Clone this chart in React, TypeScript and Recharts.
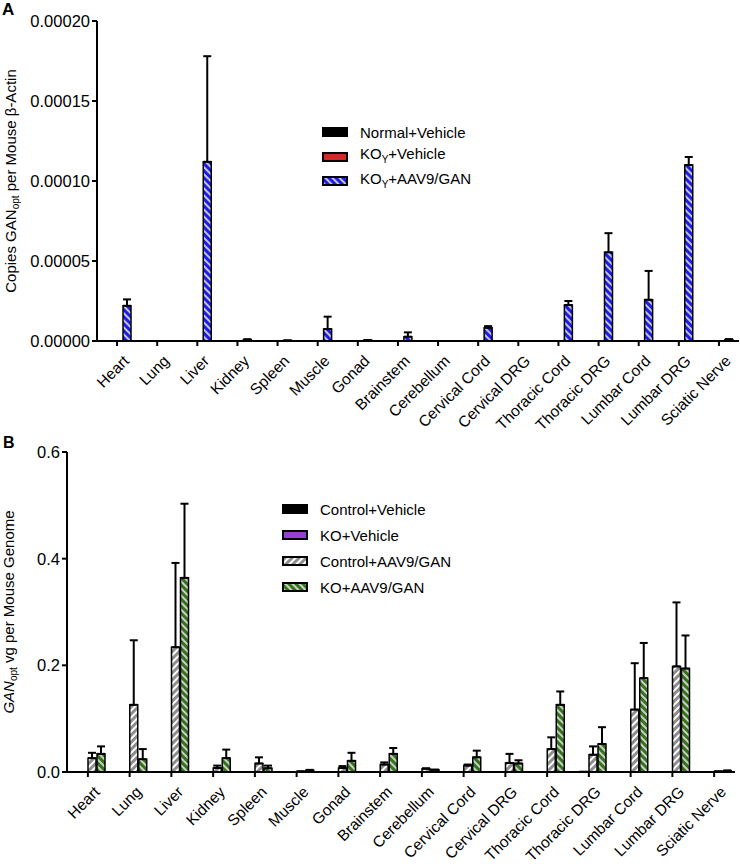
import React from "react";
import { BarChart, Bar, XAxis, YAxis, ErrorBar } from "recharts";

const FONT = '"Liberation Sans", Arial, Helvetica, sans-serif';

const tissues = [
  "Heart",
  "Lung",
  "Liver",
  "Kidney",
  "Spleen",
  "Muscle",
  "Gonad",
  "Brainstem",
  "Cerebellum",
  "Cervical Cord",
  "Cervical DRG",
  "Thoracic Cord",
  "Thoracic DRG",
  "Lumbar Cord",
  "Lumbar DRG",
  "Sciatic Nerve",
];

// Panel A: copies GANopt per mouse beta-actin
const normalVehicleA = [0, 0, 0, 0, 0, 0, 0, 0, 0, 0, 0, 0, 0, 0, 0, 0];
const koYVehicleA = [0, 0, 0, 0, 0, 0, 0, 0, 0, 0, 0, 0, 0, 0, 0, 0];
const koYAavA = [
  0.000022, 0, 0.000112, 0.0000008, 0.0000003, 0.0000075, 0.0000005, 0.0000027,
  0, 0.0000083, 0, 0.0000225, 0.0000554, 0.0000258, 0.00011, 0.0000008,
];
const koYAavErrA = [
  0.000004, 0, 0.000066, 0.0000003, 0, 0.0000077, 0, 0.0000027,
  0, 0.000001, 0, 0.0000025, 0.000012, 0.000018, 0.000005, 0.0000004,
];
const ticksA = [0, 0.00005, 0.0001, 0.00015, 0.0002];

// Panel B: GANopt vg per mouse genome
const ctrlVehicleB = [0, 0, 0, 0, 0, 0, 0, 0, 0, 0, 0, 0, 0, 0, 0, 0];
const koVehicleB = [0, 0, 0, 0, 0, 0, 0, 0, 0, 0, 0, 0, 0.001, 0, 0, 0];
const ctrlAavB = [
  0.026, 0.126, 0.234, 0.0075, 0.016, 0.001, 0.0075, 0.014,
  0.006, 0.012, 0.017, 0.043, 0.0325, 0.117, 0.198, 0.001,
];
const ctrlAavErrB = [
  0.01, 0.121, 0.158, 0.0045, 0.0115, 0, 0.0035, 0.004,
  0.001, 0.002, 0.017, 0.022, 0.0155, 0.087, 0.12, 0,
];
const koAavB = [
  0.034, 0.024, 0.364, 0.026, 0.007, 0.003, 0.021, 0.034,
  0.004, 0.0275, 0.016, 0.126, 0.0525, 0.176, 0.194, 0.002,
];
const koAavErrB = [
  0.014, 0.019, 0.139, 0.016, 0.005, 0.001, 0.015, 0.011,
  0.0005, 0.0125, 0.006, 0.025, 0.0315, 0.066, 0.062, 0.001,
];
const ticksB = [0, 0.2, 0.4, 0.6];

const dataA = tissues.map((tissue, i) => ({
  tissue,
  normalVehicle: normalVehicleA[i],
  koYVehicle: koYVehicleA[i],
  koYAav: koYAavA[i],
  koYAavErr: [0, koYAavErrA[i]],
}));

const dataB = tissues.map((tissue, i) => ({
  tissue,
  ctrlVehicle: ctrlVehicleB[i],
  koVehicle: koVehicleB[i],
  ctrlAav: ctrlAavB[i],
  ctrlAavErr: [0, ctrlAavErrB[i]],
  koAav: koAavB[i],
  koAavErr: [0, koAavErrB[i]],
}));

const BLUE = "#1c1cf0";
const RED = "#d02a2a";
const PURPLE = "#9440d0";
const GRAY = "#8e8e8e";
const GREEN = "#337516";

const axisStyle = { stroke: "#000", strokeWidth: 2 };

// rotated category labels, top-right corner sits under the tick
const XTick = (props: any) => {
  const { x, y, payload } = props;
  return (
    <g transform={`translate(${x + 5},${y + 6})`}>
      <text
        textAnchor="end"
        transform="rotate(-45)"
        dy="0.72em"
        fontSize={15.5}
        fontFamily={FONT}
        fill="#000"
      >
        {payload.value}
      </text>
    </g>
  );
};

const YLabelA = (props: any) => {
  const { viewBox } = props;
  const cx = viewBox.x + 16;
  const cy = viewBox.y + viewBox.height / 2;
  return (
    <text
      transform={`translate(${cx},${cy}) rotate(-90)`}
      textAnchor="middle"
      fontSize={15}
      fontFamily={FONT}
      fill="#000"
    >
      Copies GAN
      <tspan fontSize={10} dy={3}>
        opt
      </tspan>
      <tspan dy={-3}> per Mouse β-Actin</tspan>
    </text>
  );
};

const YLabelB = (props: any) => {
  const { viewBox } = props;
  const cx = viewBox.x + 14;
  const cy = viewBox.y + viewBox.height / 2;
  return (
    <text
      transform={`translate(${cx},${cy}) rotate(-90)`}
      textAnchor="middle"
      fontSize={15}
      fontFamily={FONT}
      fill="#000"
    >
      <tspan fontStyle="italic">GAN</tspan>
      <tspan fontSize={10} dy={3}>
        opt
      </tspan>
      <tspan dy={-3}> vg per Mouse Genome</tspan>
    </text>
  );
};

const Swatch = ({ fill }: { fill: string }) => (
  <svg width={26} height={10} style={{ display: "block" }}>
    <rect x={1} y={1} width={24} height={8} fill={fill} stroke="#000" strokeWidth={2} />
  </svg>
);

const legendA = [
  { fill: "#000", label: <>Normal+Vehicle</> },
  { fill: RED, label: <>KO<sub style={{ fontSize: 10 }}>Y</sub>+Vehicle</> },
  { fill: "url(#stripeBlue)", label: <>KO<sub style={{ fontSize: 10 }}>Y</sub>+AAV9/GAN</> },
];

const legendB = [
  { fill: "#000", label: <>Control+Vehicle</> },
  { fill: PURPLE, label: <>KO+Vehicle</> },
  { fill: "url(#stripeGray)", label: <>Control+AAV9/GAN</> },
  { fill: "url(#stripeGreen)", label: <>KO+AAV9/GAN</> },
];

const Legend = ({ items, left, top, rowH }: any) => (
  <div style={{ position: "absolute", left, top, fontFamily: FONT, fontSize: 15 }}>
    {items.map((it: any, i: number) => (
      <div key={i} style={{ display: "flex", alignItems: "center", height: rowH, lineHeight: "15px" }}>
        <Swatch fill={it.fill} />
        <span style={{ marginLeft: 12 }}>{it.label}</span>
      </div>
    ))}
  </div>
);

export default function App() {
  return (
    <div
      style={{
        position: "absolute",
        left: 0,
        top: 0,
        width: 740,
        height: 864,
        background: "#fff",
        fontFamily: FONT,
      }}
    >
      <svg width={0} height={0} style={{ position: "absolute" }}>
        <defs>
          <pattern id="stripeBlue" width={5} height={5} patternUnits="userSpaceOnUse" patternTransform="rotate(-45)">
            <rect width={5} height={5} fill={BLUE} />
            <rect width={2} height={5} fill="#c4c4c4" />
          </pattern>
          <pattern id="stripeGray" width={5} height={5} patternUnits="userSpaceOnUse" patternTransform="rotate(45)">
            <rect width={5} height={5} fill={GRAY} />
            <rect width={2} height={5} fill="#ffffff" />
          </pattern>
          <pattern id="stripeGreen" width={5} height={5} patternUnits="userSpaceOnUse" patternTransform="rotate(-45)">
            <rect width={5} height={5} fill={GREEN} />
            <rect width={2} height={5} fill="#cccccc" />
          </pattern>
        </defs>
      </svg>

      <div style={{ position: "absolute", left: 2, top: 0, fontSize: 17, fontWeight: "bold" }}>A</div>
      <div style={{ position: "absolute", left: 3, top: 434, fontSize: 16, fontWeight: "bold" }}>B</div>

      <div style={{ position: "absolute", left: 0, top: 0 }}>
        <BarChart
          width={740}
          height={446}
          data={dataA}
          margin={{ top: 21, right: 1, bottom: 0, left: 0 }}
          barSize={8}
          barGap={2}
        >
          <XAxis
            dataKey="tissue"
            interval={0}
            height={105}
            tickSize={5}
            axisLine={axisStyle}
            tickLine={axisStyle}
            tick={<XTick />}
          />
          <YAxis
            width={97}
            domain={[0, 0.0002]}
            ticks={ticksA}
            tickFormatter={(v: number) => v.toFixed(5)}
            tickSize={5}
            tickMargin={2}
            axisLine={axisStyle}
            tickLine={axisStyle}
            tick={{ fill: "#000", fontSize: 16.5, fontFamily: FONT }}
            label={<YLabelA />}
          />
          <Bar dataKey="normalVehicle" fill="#000" stroke="#000" strokeWidth={1.5} isAnimationActive={false} />
          <Bar dataKey="koYVehicle" fill={RED} stroke="#000" strokeWidth={1.5} isAnimationActive={false} />
          <Bar dataKey="koYAav" fill="url(#stripeBlue)" stroke="#000" strokeWidth={1.5} isAnimationActive={false}>
            <ErrorBar dataKey="koYAavErr" direction="y" width={4} stroke="#000" strokeWidth={2} />
          </Bar>
        </BarChart>
      </div>
      <Legend items={legendA} left={322} top={120} rowH={24.5} />

      <div style={{ position: "absolute", left: 0, top: 430 }}>
        <BarChart
          width={740}
          height={434}
          data={dataB}
          margin={{ top: 22, right: 5, bottom: 0, left: 0 }}
          barSize={8}
          barGap={1}
        >
          <XAxis
            dataKey="tissue"
            interval={0}
            height={92}
            tickSize={5}
            axisLine={axisStyle}
            tickLine={axisStyle}
            tick={<XTick />}
          />
          <YAxis
            width={67}
            domain={[0, 0.6]}
            ticks={ticksB}
            tickFormatter={(v: number) => v.toFixed(1)}
            tickSize={5}
            tickMargin={2}
            axisLine={axisStyle}
            tickLine={axisStyle}
            tick={{ fill: "#000", fontSize: 16.5, fontFamily: FONT }}
            label={<YLabelB />}
          />
          <Bar dataKey="ctrlVehicle" fill="#000" stroke="#000" strokeWidth={1.5} isAnimationActive={false} />
          <Bar dataKey="koVehicle" fill={PURPLE} stroke="#000" strokeWidth={1.5} isAnimationActive={false} />
          <Bar dataKey="ctrlAav" fill="url(#stripeGray)" stroke="#000" strokeWidth={1.5} isAnimationActive={false}>
            <ErrorBar dataKey="ctrlAavErr" direction="y" width={4} stroke="#000" strokeWidth={2} />
          </Bar>
          <Bar dataKey="koAav" fill="url(#stripeGreen)" stroke="#000" strokeWidth={1.5} isAnimationActive={false}>
            <ErrorBar dataKey="koAavErr" direction="y" width={4} stroke="#000" strokeWidth={2} />
          </Bar>
        </BarChart>
      </div>
      <Legend items={legendB} left={282} top={496} rowH={26} />
    </div>
  );
}
